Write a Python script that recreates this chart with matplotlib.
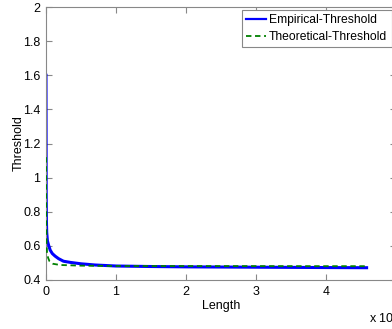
import matplotlib.pyplot as plt

plt.rcParams['font.family'] = ['Liberation Sans', 'DejaVu Sans']

# Empirical threshold
emp_x = [0, 30, 60, 100, 200, 400, 600, 900, 1300, 1800, 2500, 3500, 5000,
         7000, 10000, 15000, 20000, 25000, 30000, 35000, 40000, 45800]
emp_y = [1.6, 0.9, 0.75, 0.68, 0.63, 0.6, 0.575, 0.555, 0.54, 0.525, 0.51,
         0.503, 0.495, 0.488, 0.482, 0.479, 0.477, 0.476, 0.475, 0.474, 0.473, 0.472]

# Theoretical threshold
theo_x = [0, 30, 80, 150, 300, 500, 1000, 2000, 5000, 10000, 45800]
theo_y = [1.12, 0.75, 0.62, 0.56, 0.53, 0.51, 0.495, 0.488, 0.484, 0.482, 0.481]

fig = plt.figure(figsize=(3.92, 3.29), dpi=100)
ax = fig.add_axes([46 / 392, 49 / 329, 350 / 392, 273 / 329])

ax.plot(emp_x, emp_y, color='#0000ff', lw=2.2, label='Empirical-Threshold')
ax.plot(theo_x, theo_y, color='#008000', lw=1.3, ls=(0, (3, 2)),
        label='Theoretical-Threshold', zorder=3)

ax.set_xlim(0, 50000)
ax.set_ylim(0.4, 2)
ax.set_xticks([0, 10000, 20000, 30000, 40000])
ax.set_xticklabels(['0', '1', '2', '3', '4'])
ax.set_yticks([0.4, 0.6, 0.8, 1, 1.2, 1.4, 1.6, 1.8, 2])
ax.set_yticklabels(['0.4', '0.6', '0.8', '1', '1.2', '1.4', '1.6', '1.8', '2'])
ax.tick_params(direction='in', length=4, color='#888888', labelsize=9,
               top=True, right=True, pad=4)
for s in ax.spines.values():
    s.set_color('#888888')
    s.set_linewidth(0.8)

ax.set_xlabel('Length', fontsize=9, labelpad=2)
ax.set_ylabel('Threshold', fontsize=9, labelpad=-1)

fig.text(369 / 392, 1 - 318 / 329, 'x 10$^{4}$', fontsize=9, va='center')

leg = ax.legend(loc='upper left', bbox_to_anchor=(242 / 392, 1 - 10 / 329),
                bbox_transform=fig.transFigure, borderaxespad=0, fontsize=8.7,
                handlelength=1.6, handletextpad=0.3, labelspacing=0.38,
                borderpad=0.35, fancybox=False, framealpha=1)
leg.get_frame().set_edgecolor('#888888')
leg.get_frame().set_linewidth(0.8)
leg.get_lines()[0].set_linewidth(1.6)

fig.savefig('out.png', dpi=100)
